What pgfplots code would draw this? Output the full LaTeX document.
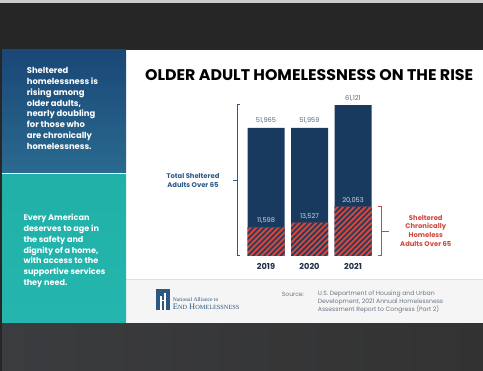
\documentclass[border=0pt]{standalone}
\usepackage{pgfplots}
\pgfplotsset{compat=1.18}
\usetikzlibrary{patterns.meta}
\usepackage{fontspec}
\setmainfont{Poppins}
\newfontfamily\serifl{Liberation Serif}
\definecolor{topband}{HTML}{262626}
\definecolor{botA}{HTML}{3B3C3F}
\definecolor{botB}{HTML}{323232}
\definecolor{blueA}{HTML}{1A4776}
\definecolor{blueB}{HTML}{2A6A90}
\definecolor{tealA}{HTML}{20B0A8}
\definecolor{tealB}{HTML}{24B6AE}
\definecolor{navyc}{HTML}{183A5E}
\definecolor{redc}{HTML}{CF463D}
\definecolor{bluelab}{HTML}{2C5A8A}
\definecolor{yearc}{HTML}{1F2F47}
\definecolor{totc}{HTML}{56677C}
\definecolor{chrc}{HTML}{D5DBE3}
\definecolor{srcgray}{HTML}{6B7686}
\definecolor{logoblue}{HTML}{2D5680}
\definecolor{footbg}{HTML}{F5F5F5}
\begin{document}
\begin{tikzpicture}[x=1pt,y=-1pt]
\useasboundingbox (0,0) rectangle (483,371);
\fill[topband] (0,0) rectangle (483,371);
\fill[black!20] (0,0) rectangle (483,3);
\shade[left color=botA, right color=botB] (2,323) rectangle (483,371);
\fill[white] (2,50) rectangle (483,323);
\fill[footbg] (126,279) rectangle (483,323);
\draw[black!12, line width=0.6pt] (126,279) -- (483,279);
% left panel
\shade[top color=blueA, bottom color=blueB] (2,50) rectangle (126,173);
\shade[top color=tealA, bottom color=tealB] (2,174.5) rectangle (126,323);
\node[anchor=north west, align=left, text=white, inner sep=0,
  font=\bfseries\fontsize{8.4}{10.8}\selectfont] at (26.7,67.3)
  {Sheltered\\homelessness is\\rising among\\older adults,\\nearly doubling\\for those who\\are chronically\\homelessness.};
\node[anchor=north west, align=left, text=white, inner sep=0,
  font=\bfseries\fontsize{8.1}{10.7}\selectfont] at (23.3,214.3)
  {Every American\\deserves to age in\\the safety and\\dignity of a home,\\with access to the\\supportive services\\they need.};
% title
\node[inner sep=0] at (309.2,75.5) {\resizebox{328pt}{11pt}{\bfseries OLDER ADULT HOMELESSNESS ON THE RISE}};
% chart
\coordinate (axo) at (244.25,256);
\begin{axis}[at={(axo)}, anchor=south west, scale only axis,
  width=130.5pt, height=160.36pt,
  xmin=-0.5, xmax=2.5, ymin=0, ymax=65000, clip=false,
  axis line style={draw=none}, major tick length=0pt,
  xtick=data, xticklabels={2019,2020,2021}, ytick=\empty,
  xticklabel style={font=\bfseries\fontsize{8.2}{9}\selectfont, text=yearc, anchor=center, yshift=-10.7pt},
  ybar, bar width=37pt,
  /pgf/number format/assume math mode=true,
  nodes near coords={\pgfmathprintnumber[fixed, precision=0, 1000 sep={,}]{\pgfplotspointmeta}},
]
\addplot[fill=navyc, draw=none, bar shift=0pt,
  every node near coord/.append style={font=\fontsize{6.6}{7}\selectfont, text=totc, anchor=south, yshift=0.5pt}]
  coordinates {(0,51965) (1,51959) (2,61121)};
\addplot[fill=redc, draw=none, bar shift=0pt,
  postaction={pattern color=navyc, pattern={Lines[angle=45,distance=3.9pt,line width=1.5pt]}},
  every node near coord/.append style={font=\fontsize{6.6}{7}\selectfont, text=chrc, anchor=south, yshift=0pt}]
  coordinates {(0,11598) (1,13527) (2,20053)};
\end{axis}
% brackets
\draw[bluelab, line width=1pt] (240,105) -- (237.3,105) -- (237.3,256) -- (240,256);
\draw[bluelab, line width=1pt] (237.3,180.5) -- (232.5,180.5);
\node[align=center, text=bluelab, inner sep=0, font=\bfseries\fontsize{6.8}{9}\selectfont] at (193,180.5) {Total Sheltered\\Adults Over 65};
\draw[redc, line width=1pt] (378,206.7) -- (381.7,206.7) -- (381.7,256) -- (378,256);
\draw[redc, line width=1pt] (381.7,231.3) -- (389.3,231.3);
\node[align=center, text=redc, inner sep=0, font=\bfseries\fontsize{6.8}{8.7}\selectfont] at (425.8,230.7) {Sheltered\\Chronically\\Homeless\\Adults Over 65};
% logo
\fill[logoblue] (156.3,289.3) rectangle (170,310);
\fill[white] (160.3,296) rectangle (161.8,310);
\fill[white] (164,293) rectangle (165.5,310);
\fill[white] (161.8,300) rectangle (164,301.5);
\node[anchor=west, inner sep=0, text=logoblue, font=\serifl\fontsize{5.6}{6}\selectfont] at (172.7,299.3) {National Alliance to};
\node[anchor=west, inner sep=0, text=logoblue, font=\serifl\fontsize{8.4}{9}\selectfont] at (172.7,307.2) {E{\fontsize{6.3}{7}\selectfont ND} H{\fontsize{6.3}{7}\selectfont OMELESSNESS}};
% source
\node[anchor=west, inner sep=0, text=srcgray, font=\fontsize{6}{8}\selectfont] at (281.7,294) {Source:};
\node[anchor=north west, align=left, inner sep=0, text=srcgray, font=\fontsize{6.1}{8}\selectfont] at (317.7,290.8)
  {U.S. Department of Housing and Urban\\Development, 2021 Annual Homelessness\\Assessment Report to Congress (Part 2)};
\end{tikzpicture}
\end{document}
